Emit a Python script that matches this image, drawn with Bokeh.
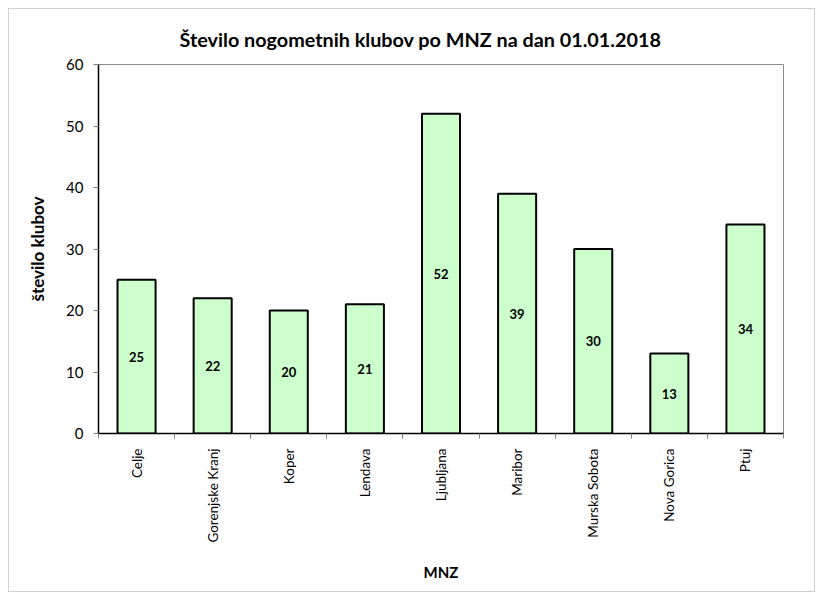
import numpy as np
from bokeh.plotting import figure
from bokeh.models import ColumnDataSource, FixedTicker, Range1d, LabelSet, Title
from bokeh.core.properties import value
from bokeh.embed import file_html
from bokeh.resources import INLINE

categories = ["Celje", "Gorenjske Kranj", "Koper", "Lendava", "Ljubljana",
              "Maribor", "Murska Sobota", "Nova Gorica", "Ptuj"]
values = [25, 22, 20, 21, 52, 39, 30, 13, 34]
y_ticks = [0, 10, 20, 30, 40, 50, 60]
title_text = "Število nogometnih klubov po MNZ na dan 01.01.2018"

FONT = "Lato"

xpos = [i + 0.5 for i in range(len(categories))]
src = ColumnDataSource(dict(x=xpos, top=values, mid=[v / 2 for v in values],
                            lab=[str(v) for v in values]))

p = figure(width=807, height=584, output_backend="svg", toolbar_location=None,
           x_range=Range1d(0, len(categories)), y_range=Range1d(0, 60),
           min_border_left=89, min_border_top=55, min_border_right=33, min_border_bottom=160)

p.title = Title(text=title_text, align="left", text_font=FONT, text_font_size="19.8px",
                text_font_style="bold", text_color="black", offset=81)
p.title.standoff = 28

p.vbar(x="x", top="top", width=0.5, source=src, fill_color="#CCFFCC",
       line_color="black", line_width=2)

labels = LabelSet(x="x", y="mid", text="lab", source=src, text_align="center",
                  text_baseline="middle", text_font=value(FONT), text_font_size="13px",
                  text_font_style="bold", text_color="black")
p.add_layout(labels)

p.xgrid.visible = False
p.ygrid.visible = False
p.outline_line_color = "#8c8c8c"
p.outline_line_width = 1

xa = p.xaxis[0]
xa.ticker = FixedTicker(ticks=xpos, minor_ticks=list(range(len(categories) + 1)))
xa.major_label_overrides = {x: c for x, c in zip(xpos, categories)}
xa.major_tick_line_color = None
xa.minor_tick_in = 0
xa.minor_tick_out = 5
xa.minor_tick_line_color = "#808080"
xa.axis_line_color = "black"
xa.axis_line_width = 1.5
xa.major_label_orientation = np.pi / 2
xa.major_label_standoff = 9
xa.major_label_text_font = FONT
xa.major_label_text_font_size = "13.5px"
xa.major_label_text_color = "black"
xa.axis_label = "MNZ"
xa.axis_label_text_font = FONT
xa.axis_label_text_font_size = "15px"
xa.axis_label_text_font_style = "bold"
xa.axis_label_text_color = "black"
xa.axis_label_standoff = 17

ya = p.yaxis[0]
ya.ticker = FixedTicker(ticks=y_ticks, minor_ticks=[])
ya.major_tick_in = 0
ya.major_tick_out = 5
ya.major_tick_line_color = "#808080"
ya.axis_line_color = "black"
ya.axis_line_width = 1.5
ya.major_label_standoff = 10
ya.major_label_text_font = FONT
ya.major_label_text_font_size = "15px"
ya.major_label_text_color = "black"
ya.axis_label = "število klubov"
ya.axis_label_text_font = FONT
ya.axis_label_text_font_size = "17px"
ya.axis_label_text_font_style = "bold"
ya.axis_label_text_color = "black"
ya.axis_label_standoff = 15

p.styles = {"border": "1px solid #d0d0d0", "margin-left": "8px", "margin-top": "8px"}

open("out.html", "w").write(file_html(p, INLINE))
